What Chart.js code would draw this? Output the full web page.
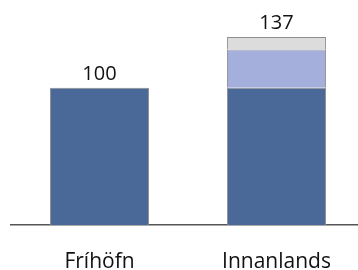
<!DOCTYPE html>
<html>
<head>
<meta charset="utf-8">
<script src="https://cdn.jsdelivr.net/npm/chart.js@4"></script>
<style>
  html, body { margin: 0; padding: 0; background: #fff; overflow: hidden; }
  #wrap { width: 366px; height: 270px; }
</style>
</head>
<body>
<div id="wrap"><canvas id="grafico"></canvas></div>
<script>
const categorias = ['Fríhöfn', 'Innanlands'];
const grunnur = [100, 100];
const mid = [0, 28];
const efst = [0, 9];

const fontur = "'Open Sans', 'Noto Sans', sans-serif";

// total ofan á hverjum stafli
const heildarPlugin = {
  id: 'heild',
  afterDatasetsDraw(chart) {
    const ctx = chart.ctx;
    const meta = chart.getDatasetMeta(0);
    ctx.save();
    ctx.font = '20px ' + fontur;
    ctx.fillStyle = '#111';
    ctx.textAlign = 'center';
    ctx.textBaseline = 'bottom';
    categorias.forEach((c, i) => {
      const total = grunnur[i] + mid[i] + efst[i];
      const y = chart.scales.y.getPixelForValue(total);
      ctx.fillText(total, meta.data[i].x, y - 4);
    });
    ctx.restore();
  }
};

const ctx = document.getElementById('grafico').getContext('2d');
new Chart(ctx, {
  type: 'bar',
  data: {
    labels: categorias,
    datasets: [
      { data: grunnur, backgroundColor: '#4a6999', borderColor: '#8f8f8f', borderWidth: 1 },
      { data: mid, backgroundColor: '#a5afdb', borderColor: '#8f8f8f', borderWidth: 1 },
      { data: efst, backgroundColor: '#dcdcdc', borderColor: '#8f8f8f', borderWidth: 1 }
    ]
  },
  options: {
    responsive: true,
    maintainAspectRatio: false,
    animation: false,
    layout: { padding: { left: 11, right: 1, top: 0, bottom: 0 } },
    datasets: { bar: { categoryPercentage: 1, barPercentage: 0.56 } },
    plugins: { legend: { display: false }, tooltip: { enabled: false } },
    scales: {
      x: {
        stacked: true,
        grid: { display: false },
        border: { display: true, color: '#555', width: 1.5 },
        ticks: { color: '#111', font: { family: fontur, size: 21 }, padding: 16 },
        afterFit(scale) { scale.height = 45; }
      },
      y: {
        stacked: true,
        display: false,
        min: 0,
        max: 164
      }
    }
  },
  plugins: [heildarPlugin]
});
</script>
</body>
</html>
